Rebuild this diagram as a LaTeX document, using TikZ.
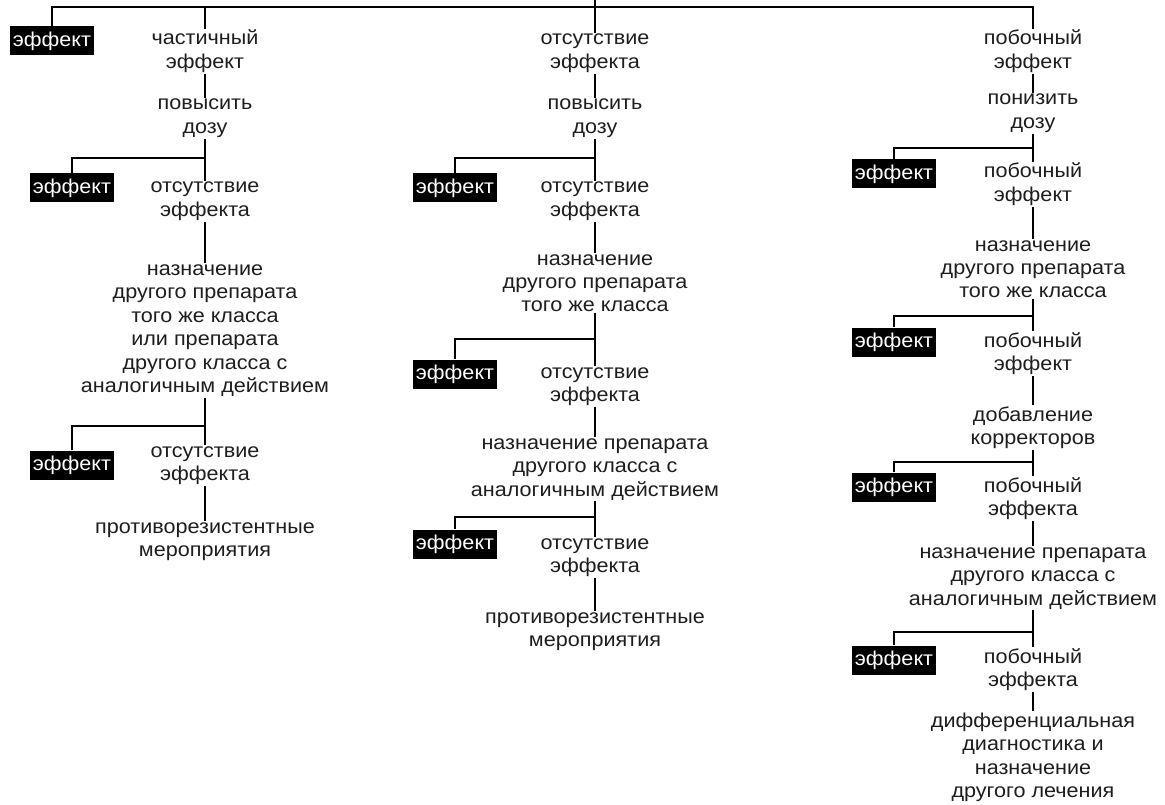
\documentclass[tikz,border=0pt]{standalone}
\usepackage{fontspec}
\setmainfont[FakeStretch=1.08]{Liberation Sans}
\definecolor{ink}{HTML}{1E1E1E}
\begin{document}
\begin{tikzpicture}[x=1pt,y=-1pt,
  txt/.style={align=center,inner sep=1pt,text=ink,anchor=base,
    font=\fontsize{20}{23.5}\selectfont},
  effbox/.style={fill=black,text=white,minimum width=84pt,minimum height=29pt,
    inner sep=0pt,font=\fontsize{20}{23.5}\selectfont},
  conn/.style={draw=black,line width=1.2pt}]
\useasboundingbox (0,0) rectangle (1165,805);
\fill[white] (0,0) rectangle (1165,805);

% ---------- top ----------
\coordinate (top) at (595,0);
\coordinate (tj) at (595,7);
\node[effbox] (E0) at (52,41) {эффект};

% ---------- left column (anchor = baseline of last line) ----------
\node[txt] (L1) at (205,68.5) {частичный\\эффект};
\node[txt] (L2) at (205,133.5) {повысить\\дозу};
\node[txt] (L3) at (205,216.5) {отсутствие\\эффекта};
\node[txt] (L4) at (205,392.5) {назначение\\другого препарата\\того же класса\\или препарата\\другого класса с\\аналогичным действием};
\node[txt] (L5) at (205,480.5) {отсутствие\\эффекта};
\node[txt] (L6) at (205,556.5) {противорезистентные\\мероприятия};
\node[effbox] (LE1) at (72,188) {эффект};
\node[effbox] (LE2) at (72,465) {эффект};
\coordinate (Lj1) at (205,158);
\coordinate (Lj2) at (205,426);

% ---------- middle column ----------
\node[txt] (M1) at (595,68.5) {отсутствие\\эффекта};
\node[txt] (M2) at (595,133.5) {повысить\\дозу};
\node[txt] (M3) at (595,216.5) {отсутствие\\эффекта};
\node[txt] (M4) at (595,312) {назначение\\другого препарата\\того же класса};
\node[txt] (M5) at (595,401.5) {отсутствие\\эффекта};
\node[txt] (M6) at (595,496) {назначение препарата\\другого класса с\\аналогичным действием};
\node[txt] (M7) at (595,572.5) {отсутствие\\эффекта};
\node[txt] (M8) at (595,646.5) {противорезистентные\\мероприятия};
\node[effbox] (ME1) at (455,188) {эффект};
\node[effbox] (ME2) at (455,374) {эффект};
\node[effbox] (ME3) at (455,544) {эффект};
\coordinate (Mj1) at (595,158);
\coordinate (Mj2) at (595,339);
\coordinate (Mj3) at (595,517);

% ---------- right column ----------
\node[txt] (R1) at (1033,68.5) {побочный\\эффект};
\node[txt] (R2) at (1033,128.5) {понизить\\дозу};
\node[txt] (R3) at (1033,201.5) {побочный\\эффект};
\node[txt] (R4) at (1033,298) {назначение\\другого препарата\\того же класса};
\node[txt] (R5) at (1033,370.5) {побочный\\эффект};
\node[txt] (R6) at (1033,444.5) {добавление\\корректоров};
\node[txt] (R7) at (1033,515.5) {побочный\\эффекта};
\node[txt] (R8) at (1033,605) {назначение препарата\\другого класса с\\аналогичным действием};
\node[txt] (R9) at (1033,686.5) {побочный\\эффекта};
\node[txt] (R10) at (1033,797.5) {дифференциальная\\диагностика и\\назначение\\другого лечения};
\node[effbox] (RE1) at (894,174) {эффект};
\node[effbox] (RE2) at (894,342) {эффект};
\node[effbox] (RE3) at (894,487) {эффект};
\node[effbox] (RE4) at (894,660) {эффект};
\coordinate (Rj1) at (1033,148);
\coordinate (Rj2) at (1033,316);
\coordinate (Rj3) at (1033,462);
\coordinate (Rj4) at (1033,632);

% ---------- connectors ----------
\draw[conn] (top) -- (tj);
\draw[conn] (E0.north) |- (tj) -| (R1.north);
\draw[conn] (tj) -- (M1.north);
\draw[conn] (L1.north |- tj) -- (L1.north);

\draw[conn] (L1.south) -- (L2.north);
\draw[conn] (L2.south) -- (L3.north);
\draw[conn] (Lj1) -| (LE1.north);
\draw[conn] (L3.south) -- (L4.north);
\draw[conn] (L4.south) -- (L5.north);
\draw[conn] (Lj2) -| (LE2.north);
\draw[conn] (L5.south) -- (L6.north);

\draw[conn] (M1.south) -- (M2.north);
\draw[conn] (M2.south) -- (M3.north);
\draw[conn] (Mj1) -| (ME1.north);
\draw[conn] (M3.south) -- (M4.north);
\draw[conn] (M4.south) -- (M5.north);
\draw[conn] (Mj2) -| (ME2.north);
\draw[conn] (M5.south) -- (M6.north);
\draw[conn] (M6.south) -- (M7.north);
\draw[conn] (Mj3) -| (ME3.north);
\draw[conn] (M7.south) -- (M8.north);

\draw[conn] (R1.south) -- (R2.north);
\draw[conn] (R2.south) -- (R3.north);
\draw[conn] (Rj1) -| (RE1.north);
\draw[conn] (R3.south) -- (R4.north);
\draw[conn] (R4.south) -- (R5.north);
\draw[conn] (Rj2) -| (RE2.north);
\draw[conn] (R5.south) -- (R6.north);
\draw[conn] (R6.south) -- (R7.north);
\draw[conn] (Rj3) -| (RE3.north);
\draw[conn] (R7.south) -- (R8.north);
\draw[conn] (R8.south) -- (R9.north);
\draw[conn] (Rj4) -| (RE4.north);
\draw[conn] (R9.south) -- (R10.north);
\end{tikzpicture}
\end{document}
